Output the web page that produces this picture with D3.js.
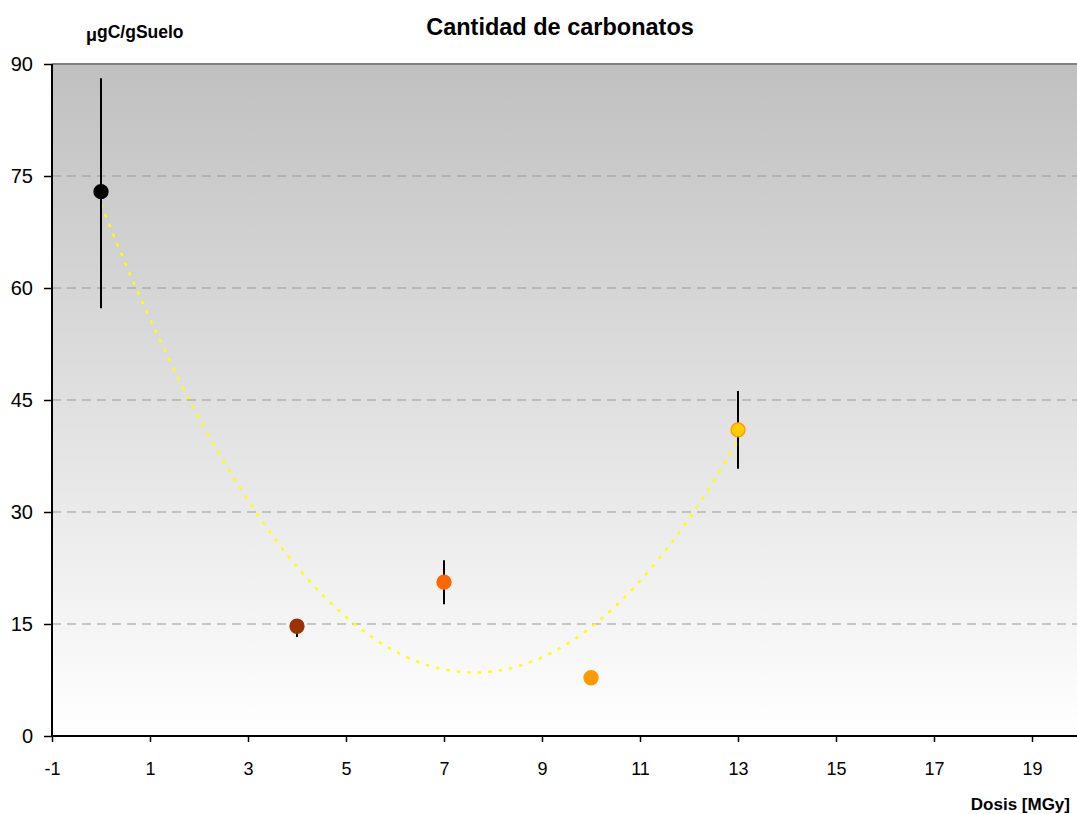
<!DOCTYPE html>
<html><head><meta charset="utf-8">
<script src="https://cdn.jsdelivr.net/npm/d3@7"></script>
<style>body{margin:0;background:#fff}svg{display:block}text{font-family:"Liberation Sans",Arial,sans-serif}</style>
</head><body>
<svg id="c" width="1077" height="814"></svg>
<script>
const doses = [0, 4, 7, 10, 13];
const values = [72.9, 14.7, 20.6, 7.8, 41.0];
const errUp = [15.2, 0, 2.95, 0, 5.2];
const errDown = [15.6, 1.45, 2.95, 0, 5.2];
const colors = ["#000000", "#993300", "#FF6600", "#FF9900", "#FFCC00"];
const strokes = ["#000000", "#993300", "#FF6600", "#FF9900", "#FF9900"];
const xTicks = [-1, 1, 3, 5, 7, 9, 11, 13, 15, 17, 19];
const yTicks = [0, 15, 30, 45, 60, 75, 90];

const svg = d3.select("#c");
const L = 52, T = 64, B = 736;
const x = d3.scaleLinear().domain([-1, 21]).range([L, L + 49 * 22]);
const y = d3.scaleLinear().domain([0, 90]).range([B, T]);

const defs = svg.append("defs");
const g = defs.append("linearGradient").attr("id", "bg").attr("x1", 0).attr("y1", 0).attr("x2", 0).attr("y2", 1);
g.append("stop").attr("offset", "0%").attr("stop-color", "#c0c0c0");
g.append("stop").attr("offset", "100%").attr("stop-color", "#ffffff");

svg.append("rect").attr("x", L).attr("y", T).attr("width", 1077 - L).attr("height", B - T).attr("fill", "url(#bg)");

// gridlines
svg.append("g").selectAll("line").data(yTicks.filter(d => d > 0 && d < 90)).join("line")
  .attr("x1", L).attr("x2", 1077).attr("y1", d => y(d)).attr("y2", d => y(d))
  .attr("stroke", "#999999").attr("stroke-width", 1).attr("stroke-dasharray", "9,6");
// top border
svg.append("line").attr("x1", L).attr("x2", 1077).attr("y1", T).attr("y2", T).attr("stroke", "#808080").attr("stroke-width", 2);

// axes
const yAxis = svg.append("g").attr("transform", `translate(${L},0)`)
  .call(d3.axisLeft(y).tickValues(yTicks).tickSize(8).tickPadding(11).tickFormat(d => String(d)));
const xAxis = svg.append("g").attr("transform", `translate(0,${B})`)
  .call(d3.axisBottom(x).tickValues(xTicks).tickSize(6).tickPadding(20).tickFormat(d => String(d)));
[yAxis, xAxis].forEach(a => {
  a.select(".domain").attr("stroke", "#000").attr("stroke-width", 2);
  a.selectAll(".tick line").attr("stroke", "#000").attr("stroke-width", 1.5);
  a.selectAll("text").attr("fill", "#000").style("font-family", "'Liberation Sans',Arial,sans-serif");
});
yAxis.selectAll("text").attr("font-size", 20);
xAxis.selectAll("text").attr("font-size", 18);
yAxis.select(".domain").attr("d", `M0,${T}V${B}`);
xAxis.select(".domain").attr("d", `M${L},0H1077`);

// quadratic least-squares trend (like spreadsheet polynomial trendline)
function quadFit(xs, ys) {
  const n = xs.length;
  let s = [0,0,0,0,0], t = [0,0,0];
  for (let i = 0; i < n; i++) {
    for (let k = 0; k < 5; k++) s[k] += Math.pow(xs[i], k);
    for (let k = 0; k < 3; k++) t[k] += Math.pow(xs[i], k) * ys[i];
  }
  const M = [[s[0],s[1],s[2],t[0]],[s[1],s[2],s[3],t[1]],[s[2],s[3],s[4],t[2]]];
  for (let i = 0; i < 3; i++) {
    for (let j = i + 1; j < 3; j++) {
      const f = M[j][i] / M[i][i];
      for (let k = i; k < 4; k++) M[j][k] -= f * M[i][k];
    }
  }
  const c = [0,0,0];
  for (let i = 2; i >= 0; i--) {
    let v = M[i][3];
    for (let k = i + 1; k < 3; k++) v -= M[i][k] * c[k];
    c[i] = v / M[i][i];
  }
  return c;
}
const coef = quadFit(doses, values);
const trendX = d3.range(0, 13.001, 0.1);
const line = d3.line().x(d => x(d)).y(d => y(coef[0] + coef[1] * d + coef[2] * d * d));
svg.append("path").datum(trendX).attr("d", line).attr("fill", "none")
  .attr("stroke", "#FFFF00").attr("stroke-width", 2.4).attr("stroke-dasharray", "3.5,7");

// error bars
const idx = doses.map((d, i) => i);
svg.append("g").selectAll("line").data(idx.filter(i => errUp[i] + errDown[i] > 0)).join("line")
  .attr("x1", i => x(doses[i])).attr("x2", i => x(doses[i]))
  .attr("y1", i => y(values[i] + errUp[i])).attr("y2", i => y(values[i] - errDown[i]))
  .attr("stroke", "#000").attr("stroke-width", 2);

// points
svg.append("g").selectAll("circle").data(idx).join("circle")
  .attr("cx", i => x(doses[i])).attr("cy", i => y(values[i])).attr("r", 7)
  .attr("fill", i => colors[i]).attr("stroke", i => strokes[i]).attr("stroke-width", 1.3);

// texts
svg.append("text").attr("x", 560).attr("y", 35).attr("text-anchor", "middle")
  .attr("font-size", 23.5).attr("font-weight", "bold").text("Cantidad de carbonatos");
const u = svg.append("text").attr("x", 86).attr("y", 38).attr("font-size", 17.5).attr("font-weight", "bold");
u.append("tspan").attr("dy", 3).attr("font-size", 18).text("μ");
u.append("tspan").attr("dy", -3).text("gC/gSuelo");
svg.append("text").attr("x", 1070).attr("y", 810).attr("text-anchor", "end")
  .attr("font-size", 17).attr("font-weight", "bold").text("Dosis [MGy]");
</script>
</body></html>
